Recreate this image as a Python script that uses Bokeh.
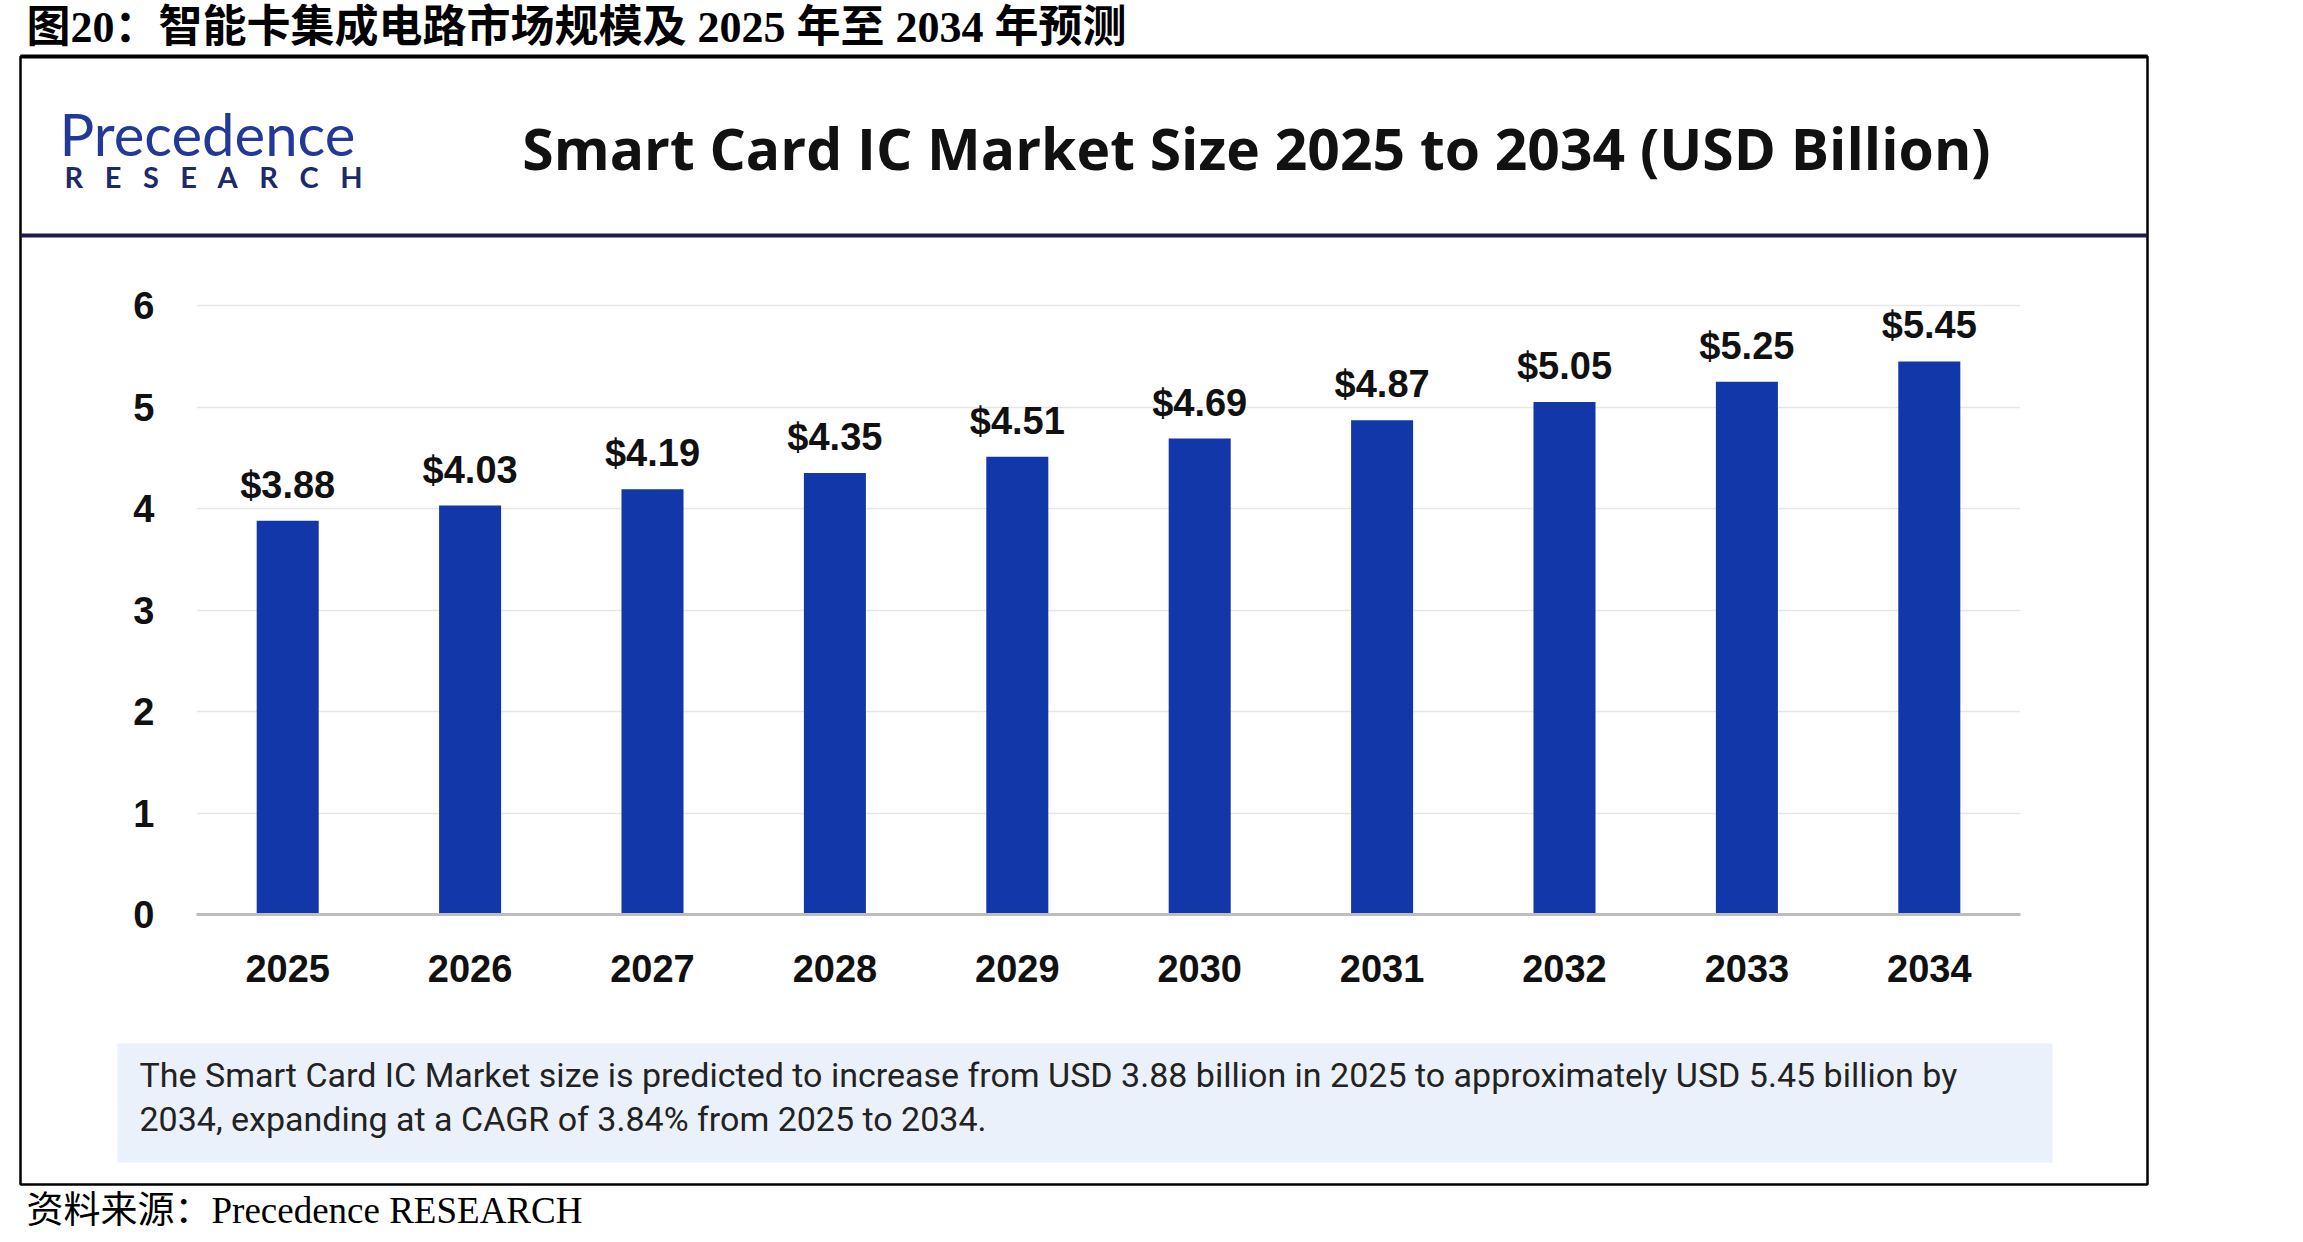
from bokeh.plotting import figure
from bokeh.models import Range1d, LinearScale, FixedTicker
from bokeh.embed import file_html
from bokeh.resources import INLINE
from bokeh.core.properties import value

# --- data -------------------------------------------------------------
years = ["2025", "2026", "2027", "2028", "2029", "2030", "2031", "2032", "2033", "2034"]
market_size = [3.88, 4.03, 4.19, 4.35, 4.51, 4.69, 4.87, 5.05, 5.25, 5.45]
value_labels = ["$%.2f" % v for v in market_size]
y_ticks = [0, 1, 2, 3, 4, 5, 6]

page_title = "图20：智能卡集成电路市场规模及 2025 年至 2034 年预测"
chart_title = "Smart Card IC Market Size 2025 to 2034 (USD Billion)"
caption_lines = [
    "The Smart Card IC Market size is predicted to increase from USD 3.88 billion in 2025 to approximately USD 5.45 billion by",
    "2034, expanding at a CAGR of 3.84% from 2025 to 2034.",
]
source_note = "资料来源：Precedence RESEARCH"

# category slots along the x axis
slots = list(range(len(years)))

# --- page geometry (pixels) ------------------------------------------
W, H = 2303, 1242
Y_TOP = 6.05
FL, FR, FT, FB = 196, 2020, 300, 914   # plot frame edges

BAR = "#1237A8"
LABEL_FONT = "Liberation Sans"
SERIF_CJK = "'Liberation Serif', 'Noto Sans CJK SC'"

p = figure(
    width=W, height=H,
    x_range=Range1d(-0.5, len(years) - 0.5), y_range=Range1d(0, Y_TOP),
    output_backend="svg", toolbar_location=None,
    min_border_left=FL, min_border_right=W - FR,
    min_border_top=FT, min_border_bottom=H - FB,
)
p.outline_line_color = None
p.background_fill_color = "white"
p.border_fill_color = "white"

# pixel-space ranges for page furniture (origin at top-left of the page)
p.extra_x_ranges = {"px": Range1d(FL, FR)}
p.extra_y_ranges = {"py": Range1d(FB, FT)}
p.extra_x_scales = {"px": LinearScale()}
p.extra_y_scales = {"py": LinearScale()}

# --- bars and value labels --------------------------------------------
p.vbar(x=slots, top=market_size, width=0.34, fill_color=BAR, line_color=None)
p.text(
    x=slots, y=market_size, text=value_labels,
    text_align="center", text_baseline="middle", y_offset=-36,
    text_font=value(LABEL_FONT), text_font_style="bold",
    text_font_size="38px", text_color="#111111",
)

# --- axes and grid ----------------------------------------------------
p.yaxis.ticker = y_ticks
p.yaxis.axis_line_color = None
p.yaxis.major_tick_line_color = None
p.yaxis.minor_tick_line_color = None
p.yaxis.major_label_standoff = 36

p.xaxis.ticker = FixedTicker(ticks=slots)
p.xaxis.major_label_overrides = {i: y for i, y in zip(slots, years)}
p.xaxis.axis_line_color = "#BDBDBD"
p.xaxis.axis_line_width = 3
p.xaxis.major_tick_line_color = None
p.xaxis.minor_tick_line_color = None
p.xaxis.major_label_standoff = 34
for ax in (p.xaxis, p.yaxis):
    ax.major_label_text_font = LABEL_FONT
    ax.major_label_text_font_style = "bold"
    ax.major_label_text_font_size = "38px"
    ax.major_label_text_color = "#111111"

p.xgrid.grid_line_color = None
p.ygrid.grid_line_color = "#E6E6E6"
p.ygrid.grid_line_width = 1.5

# --- page furniture (drawn in page pixels, above the frame clip) ------
PX = dict(x_range_name="px", y_range_name="py")


def box(left, right, top, bottom, **kw):
    p.quad(left=[left], right=[right], top=[top], bottom=[bottom],
           level="annotation", **PX, **kw)


def label(x, y, text, font, size, style="normal", color="#000000",
          align="left", baseline="middle"):
    p.text(x=[x], y=[y], text=[text], level="overlay",
           text_font=value(font), text_font_size=value(size),
           text_font_style=style, text_color=color,
           text_align=align, text_baseline=baseline, **PX)


# caption panel
box(117, 2052, 1043, 1162, fill_color="#EAF1FB", line_color=None)
# outer frame with heavier top rule
box(20, 2147, 56, 1184, fill_alpha=0, line_color="#000000", line_width=2.5)
box(20, 2147, 54, 58, fill_color="#000000", line_color=None)
# header divider
box(20, 2147, 233, 237, fill_color="#1E1B4B", line_color=None)

label(26, 27, page_title, SERIF_CJK, "44px", style="bold")

# brand mark
label(59, 133, "Precedence", "Lato", "58px", color="#22399A")
label(64, 176, "R\u2002 E\u2002 S\u2002 E\u2002 A\u2002 R\u2002 C\u2002 H",
      "Lato", "29px", style="bold", color="#1B2A6B")

label(1256, 147, chart_title, "Open Sans", "57px", style="bold",
      color="#111111", align="center")

for i, line in enumerate(caption_lines):
    label(139, 1074 + 44 * i, line, "Roboto", "34px", color="#222222")

label(26, 1210, source_note, SERIF_CJK, "37px")

open("out.html", "w").write(file_html(p, INLINE))
